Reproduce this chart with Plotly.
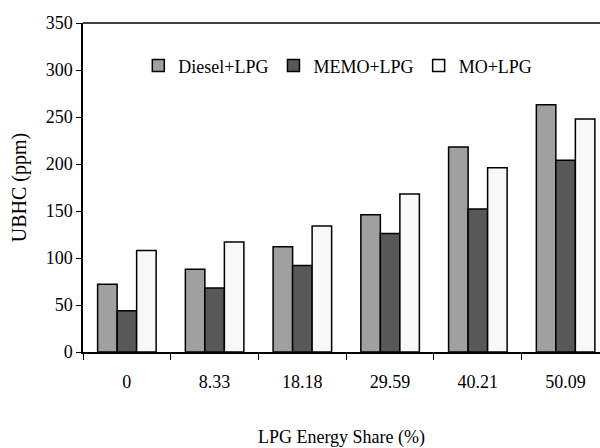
import plotly.graph_objects as go

categories = ["0", "8.33", "18.18", "29.59", "40.21", "50.09"]
diesel_lpg = [72, 88, 112, 146, 218, 263]
memo_lpg = [44, 68, 92, 126, 152, 204]
mo_lpg = [108, 117, 134, 168, 196, 248]

series = [
    ("Diesel+LPG", diesel_lpg, "#a0a0a0"),
    ("MEMO+LPG", memo_lpg, "#585858"),
    ("MO+LPG", mo_lpg, "#f8f8f8"),
]

FONT = "Liberation Serif"

fig = go.Figure()
for name, vals, color in series:
    fig.add_trace(go.Bar(
        x=categories, y=vals, name=name,
        marker=dict(color=color, line=dict(color="black", width=1.5)),
    ))

fig.update_layout(
    width=600, height=448,
    margin=dict(l=83, r=0, t=23, b=96),
    paper_bgcolor="white", plot_bgcolor="white",
    barmode="group", bargap=0.333, bargroupgap=0,
    font=dict(family=FONT, size=18, color="black"),
    showlegend=True,
    legend=dict(
        orientation="h", x=0.107, y=0.87, xanchor="left", yanchor="middle",
        font=dict(family=FONT, size=18, color="black"),
        bgcolor="rgba(0,0,0,0)", itemwidth=30, tracegroupgap=0,
    ),
    xaxis=dict(
        type="category", range=[-0.5, 5.392],
        showline=True, linecolor="black", linewidth=1.5,
        ticks="outside", tickson="boundaries", ticklen=6, tickcolor="black", tickwidth=1,
        ticklabelstandoff=13,
        showgrid=False, zeroline=False,
        tickfont=dict(family=FONT, size=18, color="black"),
        title=dict(text="LPG Energy Share (%)", font=dict(family=FONT, size=18, color="black"), standoff=42),
    ),
    yaxis=dict(
        range=[0, 350], dtick=50,
        showline=True, linecolor="black", linewidth=1.5,
        ticks="outside", ticklen=5, tickcolor="black", tickwidth=1,
        showgrid=False, zeroline=False,
        tickfont=dict(family=FONT, size=18, color="black"),
        title=dict(text="UBHC (ppm)", font=dict(family=FONT, size=20, color="black"), standoff=14),
    ),
    shapes=[dict(type="line", xref="paper", yref="paper", x0=0, x1=1, y0=1, y1=1,
                 line=dict(color="black", width=1.5))],
)

fig.write_html("out.html", config={"displayModeBar": False},
               post_script="document.body.style.margin='0px';")
